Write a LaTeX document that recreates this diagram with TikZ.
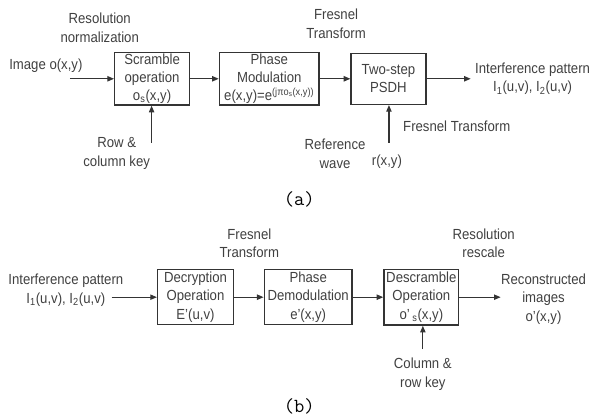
\documentclass[tikz,border=0pt]{standalone}
\usepackage{fontspec}
\setmainfont{Liberation Sans}[FakeStretch=0.9]
\usetikzlibrary{arrows.meta}

\definecolor{ink}{RGB}{52,52,52}
\definecolor{txt}{RGB}{64,64,64}

\tikzset{every picture/.style={line width=0.75pt}}
\tikzset{
  lbl/.style={inner sep=0.75pt, align=center, text=txt, font=\fontsize{11}{14}\selectfont},
  block/.style={draw=ink, line width=1pt, inner sep=0pt, align=center, text=txt, font=\fontsize{11}{13.6}\selectfont},
  arr/.style={draw=ink, line width=0.9pt, -{Triangle[length=5pt,width=4pt]}},
  subcap/.style={inner sep=0.75pt, font=\fontsize{15}{18}\ttfamily}
}

\begin{document}
\begin{tikzpicture}[x=0.75pt,y=0.75pt,yscale=-1,xscale=1]
\path (0,0) rectangle (591,420); %set diagram left start at 0, and has height of 420

%% ---------- encryption ----------
%Shape: Rectangle [id:scramble]
\draw (152.5,79) node [block, minimum width=56.25pt, minimum height=39.5pt] (scr) {Scramble\\operation\\o\textsubscript{s}(x,y)};
%Shape: Rectangle [id:phase]
\draw (270,79) node [block, minimum width=75pt, minimum height=39.5pt] (phs) {Phase\\Modulation\\e(x,y)=e\textsuperscript{(jπo\textsubscript{s}(x,y))}};
%Shape: Rectangle [id:psdh]
\draw (389.5,79) node [block, minimum width=56.25pt, minimum height=38.5pt] (psdh) {Two{-}step\\PSDH};

% Text Node
\draw (100,28) node [lbl] (res) {Resolution\\normalization};
% Text Node
\draw (46,66) node [lbl] (img) {Image o(x,y)};
% Text Node
\draw (337,24) node [lbl] (frA) {Fresnel\\Transform};
% Text Node
\draw (534,79) node [lbl] (ipA) {Interference pattern\\I\textsubscript{1}(u,v), I\textsubscript{2}(u,v)};
% Text Node
\draw (117,154) node [lbl] (rck) {Row \&\\column key};
% Text Node
\draw (336,154) node [lbl] (rw) {Reference\\wave};
% Text Node
\draw (388,162) node [lbl] (rxy) {r(x,y)};
% Text Node
\draw (458,127) node [lbl] (frB) {Fresnel Transform};
% Text Node
\draw (300,200) node [subcap] (capA) {(a)};

\coordinate (imgIn) at (70,79);
\coordinate (ipIn) at (472,79);
\coordinate (keyA) at (152,143);
\coordinate (refIn) at (390,143);

%Straight Lines
\draw [arr] (imgIn) -- (scr);
\draw [arr] (scr) -- (phs);
\draw [arr] (phs) -- (psdh);
\draw [arr] (psdh) -- (ipIn);
\draw [arr] (keyA) -- (keyA |- scr.south);
\draw [arr] (refIn) -- (refIn |- psdh.south);

%% ---------- decryption ----------
%Shape: Rectangle [id:decrypt]
\draw (196,298) node [block, minimum width=57pt, minimum height=41.5pt] (dec) {Decryption\\Operation\\E'(u,v)};
%Shape: Rectangle [id:demod]
\draw (309,298) node [block, minimum width=66pt, minimum height=41.5pt] (dem) {Phase\\Demodulation\\e'(x,y)};
%Shape: Rectangle [id:descramble]
\draw (422.5,298) node [block, minimum width=56.25pt, minimum height=42pt] (des) {Descramble\\Operation\\o'\,\textsubscript{s}(x,y)};

% Text Node
\draw (66,291) node [lbl] (ipB) {Interference pattern\\I\textsubscript{1}(u,v), I\textsubscript{2}(u,v)\hspace{14pt}};
% Text Node
\draw (250,244) node [lbl] (frC) {Fresnel\\Transform};
% Text Node
\draw (485,244) node [lbl] (rrs) {Resolution\\rescale};
% Text Node
\draw (545,300) node [lbl] (rec) {Reconstructed\\images\\o'(x,y)};
% Text Node
\draw (424,375) node [lbl] (crk) {Column \&\\row key};
% Text Node
\draw (300,408) node [subcap] (capB) {(b)};

\coordinate (ipOut) at (112,298);
\coordinate (recIn) at (502,298);
\coordinate (keyB) at (424,350);

%Straight Lines
\draw [arr] (ipOut) -- (dec);
\draw [arr] (dec) -- (dem);
\draw [arr] (dem) -- (des);
\draw [arr] (des) -- (recIn);
\draw [arr] (keyB) -- (keyB |- des.south);

\end{tikzpicture}
\end{document}
